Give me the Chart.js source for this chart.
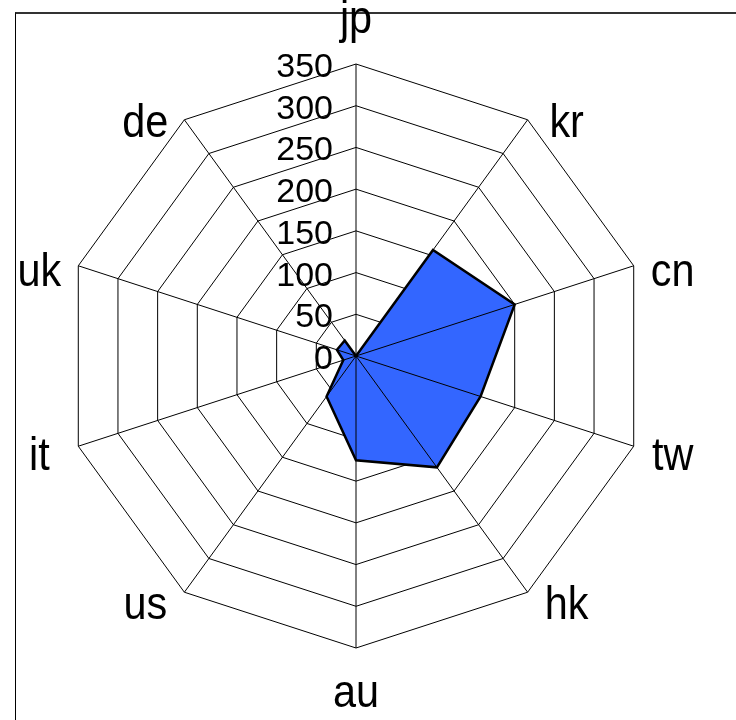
<!DOCTYPE html>
<html>
<head>
<meta charset="utf-8">
<script src="https://cdn.jsdelivr.net/npm/chart.js@4.4.1/dist/chart.umd.min.js"></script>
<style>
    body { margin: 0; background: #fff; overflow: hidden; }
    #marco {
        position: absolute; left: 15px; top: 12px; width: 900px; height: 900px;
        border-top: 2px solid #333; border-left: 1px solid #000;
    }
    #grafico { position: absolute; left: 0; top: 0; }
</style>
</head>
<body>
<div id="marco"></div>
<canvas id="grafico" width="736" height="720"></canvas>
<script>
// Datos
const paises = ['jp', 'kr', 'cn', 'tw', 'hk', 'au', 'us', 'it', 'uk', 'de'];
const valores = [0, 157, 200, 157, 165, 125, 60, 16, 24, 23];
const marcasEje = [0, 50, 100, 150, 200, 250, 300, 350];

let chartRadar = null;

// Lineas de angulo, numeros del eje y etiquetas encima del area azul
const plugEncima = {
    id: 'plugEncima',
    afterDatasetsDraw(chart) {
        const ctx = chart.ctx;
        const esc = chart.scales.r;
        const cx = esc.xCenter, cy = esc.yCenter;

        ctx.save();
        ctx.strokeStyle = '#000';
        ctx.lineWidth = 1;
        paises.forEach((p, i) => {
            let pt = esc.getPointPosition(i, esc.drawingArea);
            ctx.beginPath();
            ctx.moveTo(cx, cy);
            ctx.lineTo(pt.x, pt.y);
            ctx.stroke();
        });

        // numeros a la izquierda del eje vertical
        ctx.fillStyle = '#000';
        ctx.font = '34px "Liberation Sans", Arial, sans-serif';
        ctx.textAlign = 'right';
        ctx.textBaseline = 'alphabetic';
        marcasEje.forEach(v => {
            let y = cy - esc.getDistanceFromCenterForValue(v);
            ctx.fillText(String(v), cx - 23, y + 13);
        });

        // etiquetas de los paises
        ctx.font = '46px "Liberation Sans", Arial, sans-serif';
        ctx.textAlign = 'center';
        paises.forEach((p, i) => {
            let pt = esc.getPointPosition(i, esc.drawingArea);
            let sx = (pt.x - cx) / esc.drawingArea;
            let cy1 = (cy - pt.y) / esc.drawingArea;
            let x = pt.x, y;
            if (Math.abs(sx) < 0.01) {
                y = cy1 > 0 ? pt.y - 31 : pt.y + 59;
            } else {
                x = pt.x + Math.sign(sx) * 39;
                y = pt.y + 22 - 6 * cy1;
            }
            ctx.save();
            ctx.translate(x, y);
            ctx.scale(0.9, 1);
            ctx.fillText(p, 0, 0);
            ctx.restore();
        });
        ctx.restore();
    }
};

function dibujarRadar() {
    if (chartRadar) chartRadar.destroy();
    const ctx = document.getElementById('grafico').getContext('2d');
    chartRadar = new Chart(ctx, {
        type: 'radar',
        data: {
            labels: paises,
            datasets: [{
                data: valores,
                backgroundColor: '#3366ff',
                borderColor: '#000',
                borderWidth: 2.5,
                pointRadius: 0,
                borderJoinStyle: 'miter'
            }]
        },
        options: {
            responsive: false,
            animation: false,
            devicePixelRatio: 1,
            layout: { padding: { left: 64, top: 64, right: 88, bottom: 72 } },
            plugins: { legend: { display: false }, tooltip: { enabled: false } },
            scales: {
                r: {
                    min: 0,
                    max: 350,
                    ticks: { stepSize: 50, display: false },
                    grid: { color: '#000', lineWidth: 1 },
                    angleLines: { display: false },
                    pointLabels: { display: false }
                }
            }
        },
        plugins: [plugEncima]
    });
}

dibujarRadar();
</script>
</body>
</html>
